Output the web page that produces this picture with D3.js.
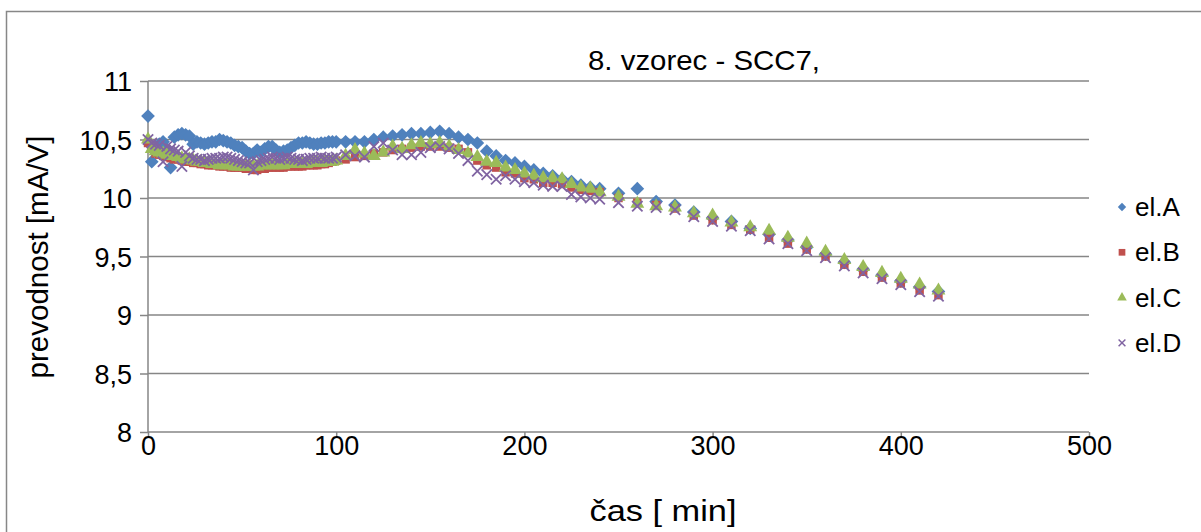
<!DOCTYPE html>
<head>
<meta charset="utf-8">
<title>8. vzorec - SCC7</title>
<style>
  body { margin: 0; background: #fff; }
  text { font-family: "Liberation Sans", Arial, sans-serif; fill: #000; }
</style>
</head>
<body>
<svg width="1201" height="532"></svg>
<script src="https://d3js.org/d3.v7.min.js"></script>
<script>

// cas [min]
var times = [0,2,4,6,8,10,12,14,16,18,20,22,24,26,28,30,32,34,36,38,40,42,44,46,48,50,
    52,54,56,58,60,62,64,66,68,70,72,74,76,78,80,82,84,86,88,90,92,94,96,98,100,
    105,110,115,120,125,130,135,140,145,150,155,160,165,170,175,180,185,190,195,200,
    205,210,215,220,225,230,235,240,
    250,260,270,280,290,300,310,320,330,340,350,360,370,380,390,400,410,420];

var elA = [10.70,10.31,10.44,10.46,10.48,10.42,10.26,10.52,10.54,10.55,10.54,10.53,10.46,10.48,10.47,10.46,
    10.47,10.48,10.48,10.50,10.49,10.48,10.47,10.45,10.44,10.43,10.40,10.38,10.38,10.41,10.39,10.42,10.44,
    10.44,10.41,10.39,10.40,10.41,10.43,10.45,10.47,10.47,10.48,10.47,10.46,10.46,10.47,10.47,10.48,10.48,10.48,
    10.48,10.48,10.48,10.50,10.52,10.53,10.54,10.55,10.55,10.56,10.57,10.55,10.52,10.50,10.47,10.40,10.36,
    10.32,10.30,10.27,10.24,10.21,10.19,10.16,10.14,10.11,10.09,10.08,
    10.04,10.08,9.97,9.94,9.88,9.83,9.80,9.74,9.69,9.64,9.58,9.52,9.45,9.39,9.34,9.29,9.24,9.20];

var elB = [10.47,10.42,10.38,10.37,10.36,10.35,10.34,10.33,10.33,10.32,10.31,10.31,10.30,10.30,10.29,10.29,
    10.28,10.28,10.28,10.27,10.27,10.27,10.26,10.26,10.26,10.26,10.25,10.25,10.24,10.24,10.25,10.25,10.26,
    10.26,10.26,10.26,10.26,10.27,10.27,10.27,10.27,10.27,10.28,10.28,10.28,10.28,10.29,10.29,10.30,10.31,10.32,
    10.33,10.35,10.36,10.38,10.39,10.41,10.42,10.43,10.44,10.44,10.44,10.43,10.42,10.39,10.32,10.28,10.26,
    10.22,10.21,10.17,10.16,10.13,10.13,10.12,10.09,10.07,10.06,10.05,
    10.00,9.96,9.94,9.91,9.85,9.81,9.77,9.73,9.66,9.61,9.56,9.50,9.43,9.37,9.32,9.27,9.21,9.17];

var elC = [10.50,10.42,10.40,10.39,10.38,10.37,10.36,10.36,10.35,10.34,10.33,10.33,10.32,10.31,10.31,10.30,
    10.30,10.29,10.29,10.28,10.28,10.28,10.28,10.27,10.27,10.27,10.27,10.27,10.27,10.27,10.28,10.28,10.28,
    10.28,10.28,10.28,10.28,10.29,10.29,10.29,10.29,10.29,10.29,10.30,10.30,10.30,10.30,10.31,10.31,10.31,10.32,
    10.36,10.41,10.38,10.36,10.39,10.44,10.42,10.45,10.47,10.46,10.47,10.44,10.41,10.38,10.35,10.31,10.30,
    10.26,10.24,10.21,10.19,10.17,10.17,10.16,10.12,10.09,10.08,10.05,
    10.01,9.95,9.93,9.92,9.87,9.85,9.79,9.75,9.72,9.66,9.61,9.54,9.47,9.41,9.36,9.31,9.26,9.21];

var elD = [10.50,10.47,10.46,10.45,10.31,10.44,10.42,10.41,10.40,10.27,10.39,10.36,10.34,10.33,10.33,10.32,
    10.33,10.34,10.34,10.34,10.35,10.35,10.34,10.33,10.32,10.31,10.30,10.30,10.24,10.31,10.32,10.33,10.34,
    10.35,10.34,10.33,10.34,10.35,10.34,10.33,10.33,10.32,10.33,10.34,10.34,10.34,10.35,10.34,10.34,10.34,10.35,
    10.37,10.36,10.35,10.44,10.47,10.41,10.37,10.37,10.39,10.43,10.44,10.42,10.38,10.32,10.23,10.20,10.16,
    10.19,10.16,10.14,10.13,10.11,10.10,10.10,10.03,10.01,10.00,9.99,
    9.96,9.93,9.92,9.90,9.84,9.80,9.76,9.72,9.65,9.61,9.55,9.49,9.42,9.36,9.31,9.26,9.20,9.16];

var seriesNames = ['el.A', 'el.B', 'el.C', 'el.D'];
var seriesColors = ['#4F81BD', '#C0504D', '#9BBB59', '#8064A2'];
var xTicks = [0, 100, 200, 300, 400, 500];
var yTicks = [8, 8.5, 9, 9.5, 10, 10.5, 11];

var svg = d3.select('svg');

// outer chart frame
svg.append('rect')
    .attr('x', 6.5).attr('y', 11.5)
    .attr('width', 1200).attr('height', 530)
    .attr('fill', 'none').attr('stroke', '#878787').attr('stroke-width', 1.5);

var x = d3.scaleLinear().domain([0, 500]).range([148, 1089]);
var y = d3.scaleLinear().domain([8, 11]).range([432, 81]);

// gridlines
svg.append('g').selectAll('line')
    .data(yTicks.filter(d => d > 8))
    .enter().append('line')
        .attr('x1', x(0)).attr('x2', x(500))
        .attr('y1', d => y(d)).attr('y2', d => y(d))
        .attr('stroke', '#868686').attr('stroke-width', 1.5);

var fmt = d => String(d).replace('.', ',');

var yAxis = svg.append('g')
    .attr('transform', 'translate(' + x(0) + ',0)')
    .call(d3.axisLeft(y).tickValues(yTicks).tickFormat(fmt).tickSize(8).tickPadding(8));

var xAxis = svg.append('g')
    .attr('transform', 'translate(0,' + y(8) + ')')
    .call(d3.axisBottom(x).tickValues(xTicks).tickSize(6).tickPadding(0));

[yAxis, xAxis].forEach(a => {
    a.selectAll('path, line').attr('stroke', '#868686').attr('stroke-width', 1.5);
    a.selectAll('text').style('font-size', '27px').style('font-family', '"Liberation Sans", Arial, sans-serif');
});
yAxis.selectAll('text').attr('dy', '0.36em');
xAxis.selectAll('text').attr('y', 4);
yAxis.select('.domain').attr('d', 'M0,' + y(8) + 'V' + y(11));
xAxis.select('.domain').attr('d', 'M' + x(0) + ',0H' + x(500));

// markers
var symbols = [
    d3.symbol().type(d3.symbolDiamond2).size(120),
    d3.symbol().type(d3.symbolSquare).size(72),
    d3.symbol().type(d3.symbolTriangle).size(84),
    d3.symbol().type(d3.symbolX).size(72)
];

var allSeries = [elA, elB, elC, elD];

allSeries.forEach((vals, i) => {
    var g = svg.append('g');
    var pts = g.selectAll('path')
        .data(vals.map((v, j) => [times[j], v]))
        .enter().append('path')
            .attr('d', symbols[i])
            .attr('transform', d => 'translate(' + x(d[0]) + ',' + y(d[1]) + ')');
    if (i === 3) {
        pts.attr('fill', 'none').attr('stroke', seriesColors[i]).attr('stroke-width', 1.8);
    } else {
        pts.attr('fill', seriesColors[i]);
    }
});

// title and axis labels
svg.append('text')
    .attr('x', 704).attr('y', 70)
    .attr('text-anchor', 'middle')
    .attr('textLength', 232).attr('lengthAdjust', 'spacingAndGlyphs')
    .style('font-size', '28px')
    .text('8. vzorec - SCC7,');

svg.append('text')
    .attr('x', 663).attr('y', 521)
    .attr('text-anchor', 'middle')
    .attr('textLength', 147).attr('lengthAdjust', 'spacingAndGlyphs')
    .style('font-size', '29px')
    .text('čas [ min]');

svg.append('text')
    .attr('transform', 'translate(48,257) rotate(-90)')
    .attr('text-anchor', 'middle')
    .attr('textLength', 243).attr('lengthAdjust', 'spacingAndGlyphs')
    .style('font-size', '29px')
    .text('prevodnost [mA/V]');

// legend
var legendSymbols = [
    d3.symbol().type(d3.symbolDiamond2).size(45),
    d3.symbol().type(d3.symbolSquare).size(45),
    d3.symbol().type(d3.symbolTriangle).size(40),
    d3.symbol().type(d3.symbolX).size(32)
];

var legend = svg.append('g').selectAll('g')
    .data(seriesNames)
    .enter().append('g')
        .attr('transform', (d, i) => 'translate(1122,' + (207 + i * 45.3) + ')');

legend.append('path')
    .attr('d', (d, i) => legendSymbols[i]())
    .attr('fill', (d, i) => i === 3 ? 'none' : seriesColors[i])
    .attr('stroke', (d, i) => i === 3 ? seriesColors[i] : 'none')
    .attr('stroke-width', 1.5);

legend.append('text')
    .attr('x', 13).attr('dy', 9)
    .style('font-size', '26px')
    .text(d => d);

</script>
</body>
